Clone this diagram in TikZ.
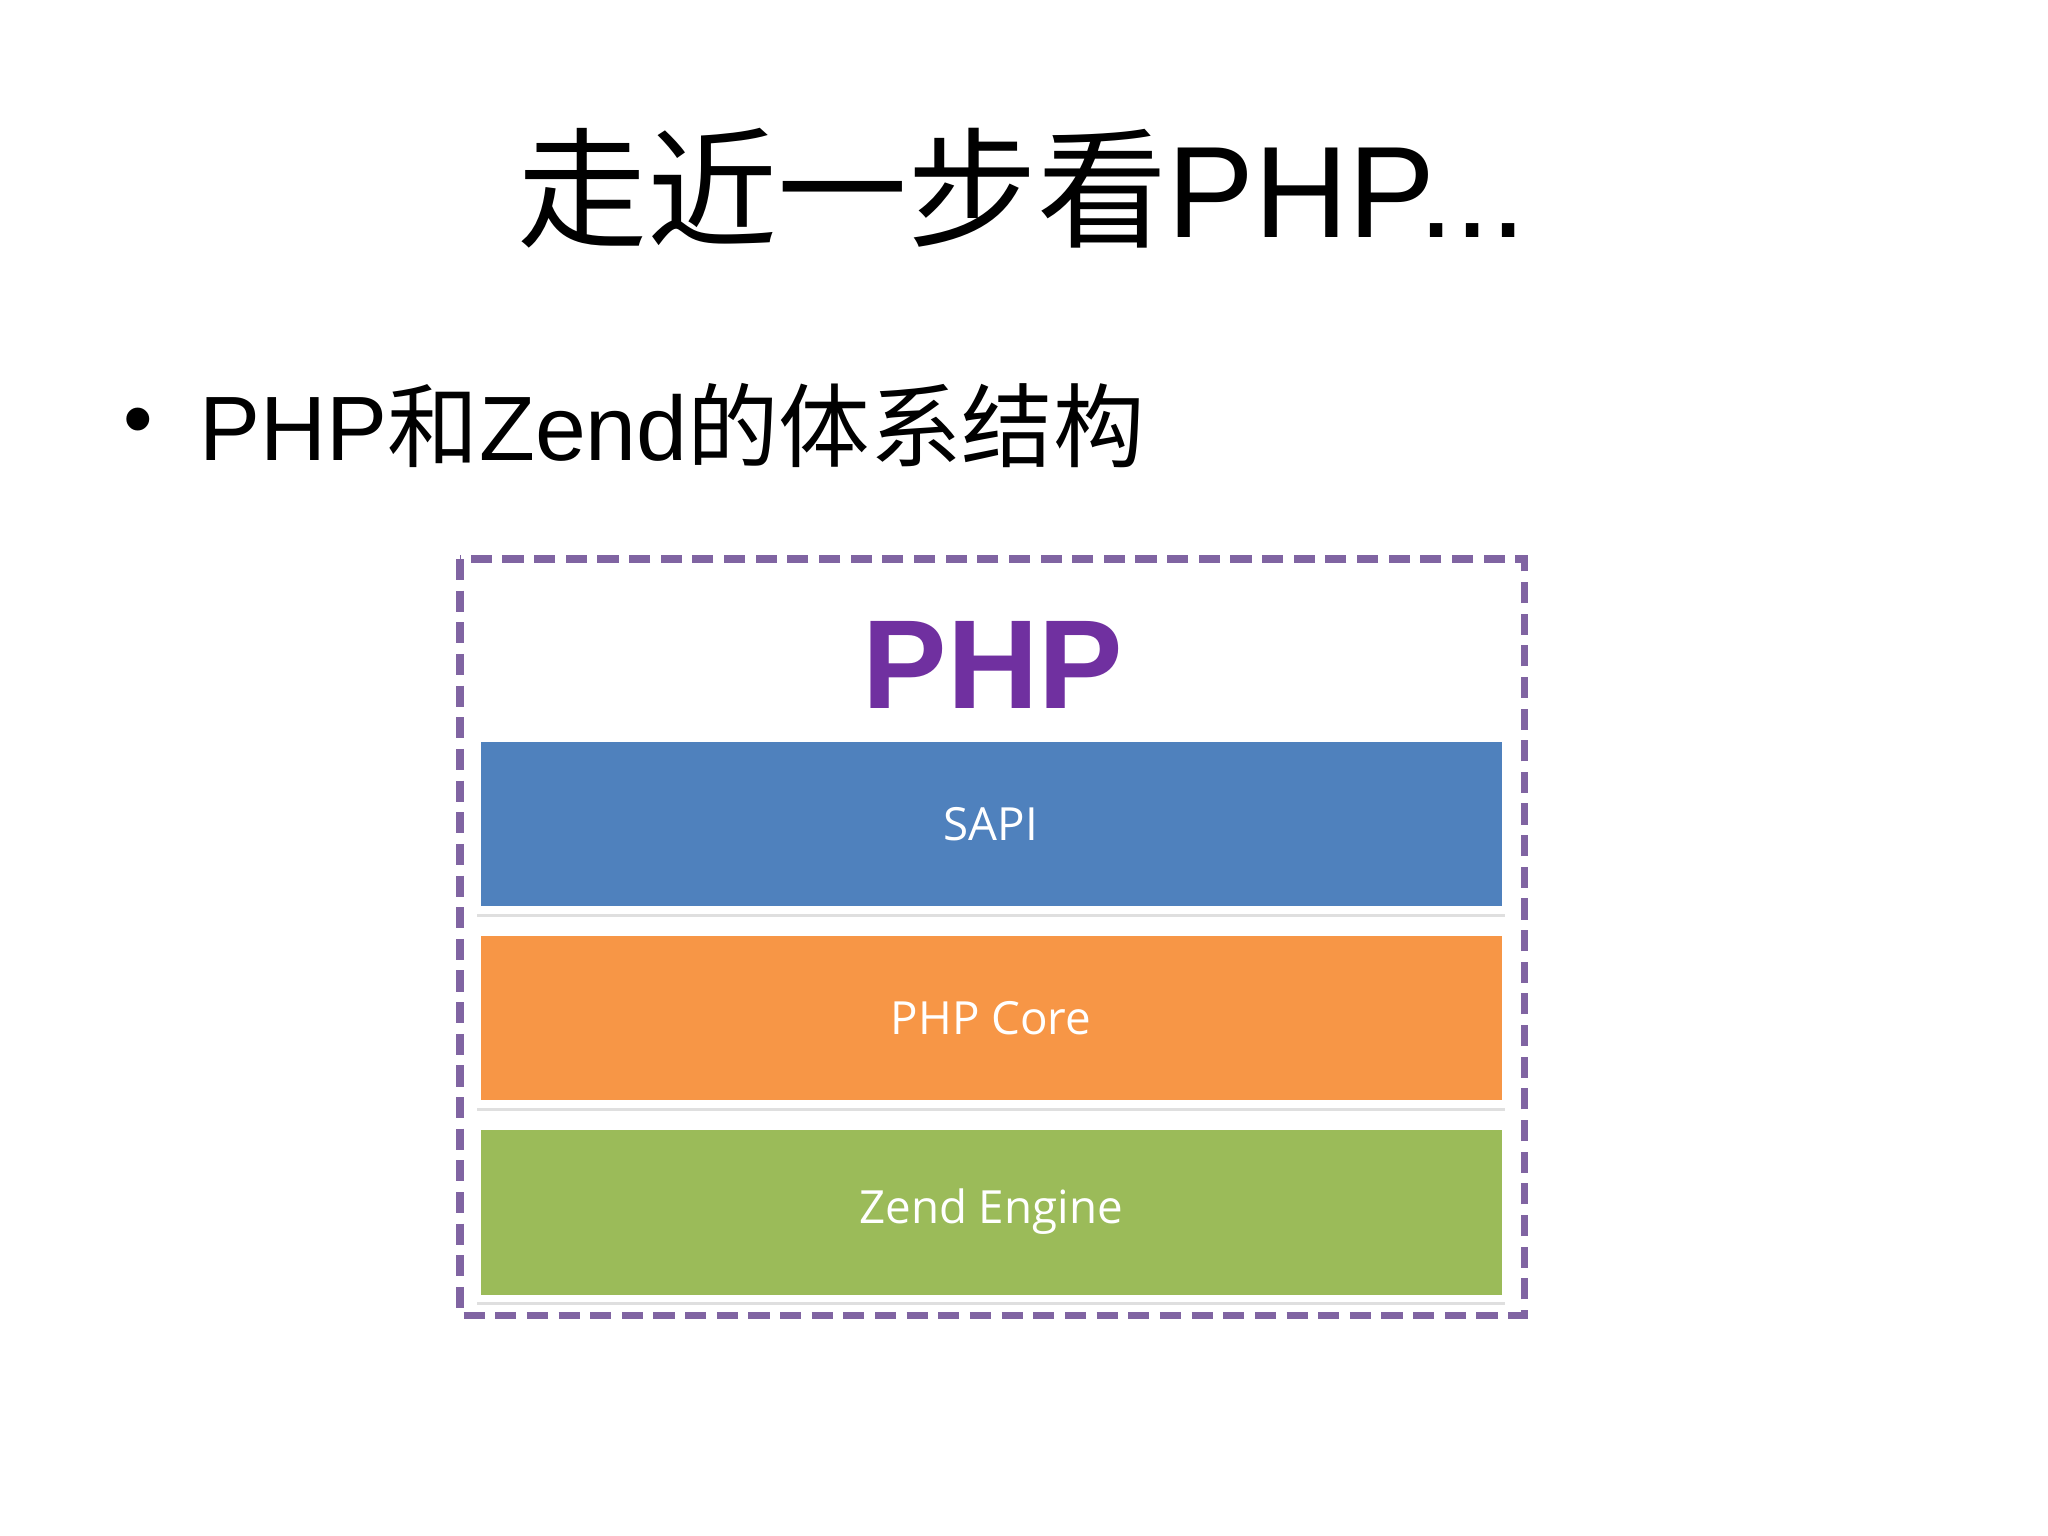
\documentclass[tikz,border=0pt]{standalone}
\usepackage{fontspec}
\usetikzlibrary{shadows}
\setmainfont{Liberation Sans}
\newfontfamily\cjk{Noto Sans CJK SC}
\newfontfamily\barfont{Open Sans}
\definecolor{purp}{HTML}{8064A2}
\definecolor{purptxt}{HTML}{7030A0}
\definecolor{bblue}{HTML}{4F81BD}
\definecolor{borange}{HTML}{F79646}
\definecolor{bgreen}{HTML}{9BBB59}
\begin{document}
\begin{tikzpicture}[x=0.01cm,y=-0.01cm,
  bar/.style={draw=white,line width=2pt,minimum width=1028*0.01cm,minimum height=172*0.01cm,inner sep=0,text=white,font=\barfont\fontsize{13}{15}\selectfont,drop shadow={opacity=0.25,shadow xshift=0pt,shadow yshift=-2pt}}]
\useasboundingbox (0,0) rectangle (2048,1536);
\fill[white] (0,0) rectangle (2048,1536);
\node (title) at (1022,188) {\fontsize{37}{42}\selectfont{\cjk 走近一步看}PHP...};
\node (dot) at (138,428) {\fontsize{24}{28}\selectfont •};
\node[anchor=west,inner sep=0] (sub) at (199,426) {\fontsize{26}{30}\selectfont PHP{\cjk 和}Zend{\cjk 的体系结构}};
\draw[purp,line width=2pt,dash pattern=on 6pt off 3pt] (460,559) rectangle (1524,1315);
\node (php) at (993,665) {\fontsize{36}{42}\selectfont\bfseries\color{purptxt}PHP};
\node[bar,fill=bblue] (sapi) at (991,824) {SAPI};
\node[bar,fill=borange] (core) at (991,1018) {PHP Core};
\node[bar,fill=bgreen] (zend) at (991,1212) {Zend Engine};
\end{tikzpicture}
\end{document}
